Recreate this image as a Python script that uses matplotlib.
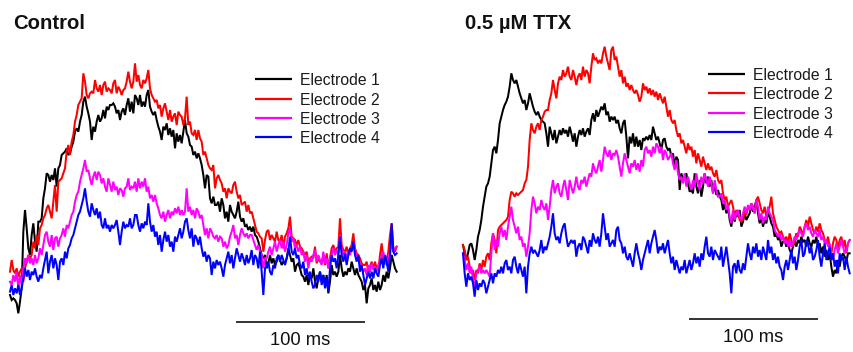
import numpy as np
import matplotlib
matplotlib.use("Agg")
import matplotlib.pyplot as plt

plt.rcParams["font.family"] = ["Liberation Sans", "DejaVu Sans"]

# Field-potential traces from four electrodes, sampled every DT_MS milliseconds.
# Amplitudes are in arbitrary units (uV-scale, no y calibration shown).
DT_MS = 1.292

electrode_labels = ["Electrode 1", "Electrode 2", "Electrode 3", "Electrode 4"]
electrode_colors = ["#000000", "#ff0000", "#ff00ff", "#0000ff"]
panel_titles = ["Control", "0.5 \u00b5M TTX"]
scale_bar_ms = 100
scale_bar_label = "100 ms"

ctrl_e1 = [15, 0, 5, 0, -10, -40, -5, 35, 205, 270, 215, 155, 135, 195, 230, 175, 145, 235, 235, 245, 305, 335, 380, 375, 355, 375, 360, 395, 340, 395, 405, 435, 440, 445, 455, 435, 440, 460, 475, 505, 515, 505, 535, 555, 595, 610, 580, 560, 535, 480, 520, 505, 535, 555, 535, 545, 570, 545, 580, 570, 585, 585, 590, 580, 560, 570, 540, 565, 575, 555, 585, 605, 565, 595, 560, 615,
           605, 585, 615, 580, 595, 580, 615, 630, 580, 565, 555, 565, 540, 520, 505, 480, 520, 510, 530, 495, 515, 490, 510, 455, 500, 475, 495, 470, 505, 540, 500, 490, 465, 460, 435, 445, 425, 440, 425, 405, 375, 335, 375, 370, 305, 290, 310, 285, 285, 295, 265, 305, 285, 245, 265, 235, 285, 265, 255, 245, 265, 295, 250, 235, 245, 220, 225, 210, 220, 205, 220, 195, 190, 175, 155, 135, 125, 135,
           95, 110, 135, 110, 125, 105, 115, 135, 120, 105, 115, 110, 125, 155, 135, 115, 125, 85, 105, 110, 95, 75, 70, 55, 75, 45, 75, 65, 95, 55, 35, 65, 85, 55, 75, 45, 75, 20, 55, 105, 75, 85, 70, 85, 135, 95, 70, 85, 75, 95, 85, 115, 95, 75, 95, 75, 65, 55, 30, 45, -10, 35, 45, 65, 30, 45, 25, 55, 30, 45, 75, 55, 85, 65, 95, 135, 115, 95, 85]

ctrl_e2 = [85, 120, 90, 80, 95, 70, 85, 95, 55, 95, 115, 135, 125, 135, 175, 155, 195, 165, 215, 225, 245, 255, 275, 285, 265, 245, 295, 345, 265, 355, 360, 365, 380, 395, 445, 465, 435, 475, 495, 535, 555, 585, 595, 605, 680, 655, 615, 605, 620, 625, 620, 660, 635, 625, 645, 615, 645, 655, 625, 635, 630, 620, 650, 660, 620, 640, 630, 615, 630, 635, 655, 685, 655, 635, 655, 710,
           655, 675, 645, 635, 660, 650, 665, 690, 635, 615, 605, 595, 600, 575, 585, 550, 575, 590, 565, 540, 570, 535, 550, 560, 525, 565, 555, 550, 525, 545, 610, 525, 535, 500, 495, 510, 480, 510, 485, 475, 435, 445, 425, 405, 395, 390, 405, 335, 365, 375, 360, 350, 325, 335, 305, 335, 325, 320, 345, 355, 325, 305, 315, 285, 290, 295, 265, 285, 260, 265, 245, 225, 205, 200, 190, 185, 145, 180,
           205, 210, 180, 195, 185, 175, 205, 180, 175, 195, 155, 190, 200, 215, 250, 190, 185, 180, 165, 180, 160, 155, 145, 135, 145, 115, 125, 130, 125, 160, 110, 125, 115, 110, 135, 105, 140, 95, 125, 155, 165, 145, 155, 160, 245, 165, 150, 145, 160, 135, 155, 165, 200, 155, 140, 135, 125, 110, 105, 105, 115, 80, 100, 115, 95, 115, 95, 90, 135, 170, 125, 115, 120, 145, 195, 230, 155, 145, 160]

ctrl_e3 = [55, 45, 75, 55, 85, 35, 75, 45, 95, 125, 110, 135, 110, 125, 105, 135, 110, 125, 155, 135, 165, 195, 205, 175, 160, 195, 150, 185, 190, 160, 185, 195, 215, 190, 225, 215, 235, 255, 265, 295, 315, 325, 355, 375, 395, 420, 385, 390, 365, 345, 370, 385, 360, 385, 375, 350, 365, 340, 325, 365, 345, 325, 355, 330, 340, 315, 335, 330, 310, 335, 340, 365, 330, 340, 335, 355,
           325, 365, 335, 355, 340, 365, 325, 340, 305, 315, 295, 315, 290, 275, 255, 245, 265, 235, 255, 270, 245, 265, 255, 275, 260, 280, 255, 270, 255, 265, 335, 265, 280, 255, 270, 245, 275, 265, 245, 255, 225, 195, 215, 185, 215, 205, 190, 185, 195, 175, 190, 185, 160, 175, 155, 165, 190, 205, 225, 185, 195, 165, 195, 215, 200, 190, 200, 185, 195, 195, 180, 165, 150, 165, 145, 135, 95, 125,
           125, 145, 160, 135, 155, 175, 145, 165, 180, 155, 175, 145, 165, 200, 215, 175, 185, 155, 165, 145, 160, 135, 145, 115, 135, 95, 125, 115, 135, 150, 115, 135, 120, 105, 145, 110, 125, 95, 130, 135, 155, 135, 150, 135, 195, 155, 135, 145, 125, 145, 135, 155, 175, 145, 135, 125, 110, 95, 85, 95, 75, 105, 85, 110, 90, 100, 85, 105, 115, 135, 145, 115, 105, 120, 145, 175, 145, 155, 160]

ctrl_e4 = [25, 45, 15, 35, 20, 45, 15, 35, 65, 95, 70, 90, 60, 85, 75, 95, 70, 55, 75, 65, 95, 120, 145, 80, 115, 135, 95, 125, 105, 60, 115, 125, 105, 145, 125, 155, 165, 185, 195, 215, 235, 255, 265, 285, 305, 335, 295, 265, 250, 290, 270, 255, 275, 245, 265, 225, 215, 245, 215, 225, 205, 225, 215, 225, 240, 205, 165, 205, 235, 215, 225, 220, 245, 215, 225, 255,
           255, 225, 205, 230, 215, 235, 225, 290, 235, 205, 225, 190, 205, 165, 195, 145, 180, 205, 175, 195, 160, 175, 145, 190, 175, 195, 215, 185, 205, 235, 245, 210, 185, 215, 160, 195, 185, 165, 190, 155, 130, 145, 115, 135, 125, 75, 115, 95, 120, 105, 115, 95, 70, 105, 125, 145, 110, 135, 95, 125, 155, 135, 115, 140, 125, 105, 135, 110, 125, 150, 105, 135, 125, 95, 145, 85, 15, 95,
           105, 115, 85, 75, 105, 95, 125, 135, 115, 135, 120, 105, 125, 145, 190, 145, 135, 155, 125, 135, 105, 95, 115, 75, 95, 65, 85, 55, 35, 45, 75, 55, 85, 45, 75, 35, 65, 25, 95, 135, 115, 125, 95, 135, 190, 135, 115, 140, 105, 135, 155, 145, 175, 135, 115, 135, 85, 105, 75, 45, 65, 85, 65, 85, 65, 95, 80, 70, 105, 125, 95, 135, 115, 85, 130, 230, 145, 135, 140]

ttx_e1 = [165, 140, 120, 140, 165, 170, 150, 120, 150, 190, 210, 240, 280, 310, 340, 350, 370, 410, 450, 460, 440, 480, 530, 550, 570, 585, 595, 610, 640, 680, 660, 650, 660, 640, 620, 605, 590, 600, 570, 590, 620, 600, 580, 565, 555, 565, 550, 540, 535, 530, 500, 460, 520, 500, 480, 510, 470, 490, 510, 495, 515, 500, 510, 490, 520, 500, 475, 500, 460, 490, 510, 495, 515, 490, 505, 515,
          495, 540, 560, 535, 570, 550, 565, 580, 570, 590, 555, 565, 535, 550, 540, 550, 530, 540, 515, 500, 530, 540, 490, 425, 490, 470, 500, 460, 490, 460, 480, 450, 485, 480, 490, 480, 495, 480, 520, 500, 480, 490, 470, 450, 480, 485, 460, 450, 455, 430, 440, 400, 430, 420, 330, 380, 360, 370, 380, 350, 325, 330, 320, 380, 340, 320, 360, 310, 340, 380, 350, 370, 340, 360, 320, 350, 315, 330,
          310, 300, 270, 290, 260, 280, 240, 220, 260, 235, 260, 250, 270, 220, 235, 260, 240, 250, 260, 285, 265, 280, 300, 260, 230, 250, 220, 240, 230, 260, 250, 230, 220, 190, 200, 180, 190, 160, 175, 180, 160, 170, 150, 140, 160, 180, 160, 180, 170, 190, 175, 180, 160, 190, 170, 160, 180, 170, 190, 160, 170, 140, 160, 130, 150, 120, 140, 100, 70, 90, 80, 120, 100, 130, 140, 130, 115, 140, 140]

ttx_e2 = [165, 150, 120, 130, 100, 80, 90, 60, 90, 80, 110, 90, 120, 100, 130, 140, 120, 170, 200, 180, 140, 210, 220, 225, 230, 235, 240, 250, 300, 325, 320, 310, 320, 315, 320, 325, 330, 350, 360, 400, 480, 530, 510, 500, 520, 530, 510, 540, 550, 565, 570, 570, 600, 620, 660, 630, 605, 650, 670, 660, 690, 670, 680, 700, 670, 660, 690, 670, 645, 670, 680, 660, 700, 670, 690, 680,
          650, 700, 740, 720, 725, 710, 720, 710, 740, 760, 730, 710, 690, 750, 760, 720, 730, 700, 670, 690, 650, 670, 640, 650, 630, 645, 630, 620, 630, 615, 595, 610, 650, 630, 640, 620, 635, 615, 630, 610, 625, 600, 620, 605, 590, 610, 580, 550, 570, 540, 530, 540, 510, 490, 500, 470, 480, 460, 440, 470, 450, 460, 430, 450, 410, 440, 420, 400, 430, 410, 390, 410, 390, 400, 380, 370, 390, 360,
          350, 360, 320, 300, 310, 280, 290, 300, 280, 250, 270, 260, 240, 235, 240, 270, 255, 280, 270, 290, 280, 260, 300, 310, 290, 270, 260, 280, 250, 270, 280, 310, 260, 240, 220, 210, 200, 205, 190, 180, 190, 170, 200, 180, 160, 180, 200, 190, 220, 210, 195, 220, 240, 220, 250, 230, 210, 200, 220, 205, 230, 210, 200, 180, 170, 190, 160, 140, 170, 190, 180, 155, 180, 190, 160, 180, 140, 170, 180]

ttx_e3 = [140, 120, 90, 110, 80, 100, 60, 40, 80, 90, 100, 80, 90, 80, 90, 80, 70, 140, 200, 150, 180, 160, 200, 220, 190, 210, 180, 220, 250, 280, 240, 220, 200, 220, 180, 190, 160, 170, 130, 160, 200, 270, 310, 290, 260, 280, 270, 300, 280, 270, 290, 240, 280, 330, 360, 320, 340, 350, 320, 310, 340, 360, 330, 300, 360, 340, 320, 340, 370, 340, 330, 360, 350, 370, 340, 360,
          380, 370, 410, 390, 380, 400, 420, 385, 420, 460, 440, 430, 450, 420, 440, 435, 450, 430, 400, 370, 410, 440, 420, 400, 380, 410, 400, 420, 390, 410, 385, 420, 400, 450, 460, 440, 450, 430, 460, 440, 470, 460, 440, 460, 420, 450, 440, 420, 430, 440, 410, 390, 420, 380, 360, 370, 350, 380, 340, 370, 350, 330, 360, 340, 380, 350, 330, 370, 350, 380, 360, 340, 370, 350, 320, 360, 330, 310,
          310, 320, 290, 300, 270, 285, 250, 230, 270, 240, 260, 270, 250, 240, 260, 280, 260, 285, 270, 290, 275, 260, 300, 280, 240, 260, 230, 250, 240, 280, 260, 250, 240, 210, 200, 190, 200, 180, 190, 170, 180, 160, 180, 160, 170, 190, 180, 200, 210, 200, 190, 220, 230, 210, 220, 200, 190, 210, 200, 190, 210, 180, 190, 170, 180, 160, 170, 140, 120, 150, 170, 140, 160, 180, 160, 140, 150, 170, 180]

ttx_e4 = [140, 80, 40, 80, 60, 70, 50, 10, 60, 30, 50, 40, 60, 50, 20, 40, 60, 80, 50, 80, 70, 90, 80, 100, 80, 110, 120, 90, 100, 80, 120, 130, 100, 80, 110, 90, 70, 100, 20, 100, 140, 160, 140, 150, 140, 130, 150, 180, 140, 160, 150, 170, 190, 220, 260, 200, 180, 190, 170, 200, 220, 230, 190, 160, 170, 180, 170, 180, 130, 160, 170, 150, 190, 180, 160, 140,
          180, 160, 200, 180, 170, 190, 160, 200, 260, 220, 180, 200, 160, 170, 180, 160, 210, 220, 180, 170, 140, 160, 130, 120, 140, 120, 100, 140, 170, 140, 120, 90, 120, 140, 160, 180, 140, 170, 190, 210, 180, 140, 160, 150, 170, 140, 160, 180, 140, 110, 130, 90, 120, 100, 80, 100, 90, 120, 80, 100, 120, 90, 110, 140, 110, 130, 100, 140, 120, 160, 190, 140, 130, 160, 120, 150, 140, 130,
          120, 160, 100, 130, 160, 120, 80, 20, 100, 110, 80, 120, 90, 80, 110, 90, 130, 170, 140, 120, 160, 140, 170, 130, 150, 120, 160, 140, 120, 180, 140, 160, 120, 140, 110, 130, 100, 90, 60, 100, 120, 90, 120, 150, 110, 130, 90, 120, 160, 180, 130, 140, 180, 170, 140, 160, 120, 130, 150, 180, 130, 100, 140, 170, 120, 140, 160, 120, 140, 100, 120, 80, 140, 120, 130, 90, 130, 100, 80]

panels = [
    [ctrl_e1, ctrl_e2, ctrl_e3, ctrl_e4],
    [ttx_e1, ttx_e2, ttx_e3, ttx_e4],
]

# ---- layout (figure pixels) ----
W, H = 854, 352
DPI = 100
PX_PER_MS = 1.29          # horizontal scale shared by both panels
PX_PER_UNIT = 1.0 / 3.0   # vertical scale

fig = plt.figure(figsize=(W / DPI, H / DPI), dpi=DPI)
fig.patch.set_facecolor("white")

# (left px, right px, px where the trace starts, scale bar y, label baseline y,
#  legend first line y, legend first text baseline y, title x)
panel_layout = [
    dict(x0=0, x1=430, start=10, bar_y=321.5, lab_y=345.0, leg_y=79.3, txt_y=85.3, title_x=12.7),
    dict(x0=440, x1=854, start=463, bar_y=318.5, lab_y=342.3, leg_y=74.0, txt_y=80.0, title_x=465.0),
]
Y_TOP, Y_BOT = 40, 350
ZERO_PX = 300  # pixel row of amplitude 0


def y_to_amp(ypx):
    return (ZERO_PX - ypx) / PX_PER_UNIT


for traces, title, lay in zip(panels, panel_titles, panel_layout):
    ax = fig.add_axes([lay["x0"] / W, 1 - Y_BOT / H,
                       (lay["x1"] - lay["x0"]) / W, (Y_BOT - Y_TOP) / H])
    ax.set_xlim((lay["x0"] - lay["start"]) / PX_PER_MS,
                (lay["x1"] - lay["start"]) / PX_PER_MS)
    ax.set_ylim(y_to_amp(Y_BOT), y_to_amp(Y_TOP))
    ax.axis("off")

    for vals, color in zip(traces, electrode_colors):
        t = np.arange(len(vals)) * DT_MS
        ax.plot(t, vals, color=color, lw=1.45, solid_joinstyle="miter")

    # time scale bar
    bar_start = 175
    ax.plot([bar_start, bar_start + scale_bar_ms],
            [y_to_amp(lay["bar_y"])] * 2, color="#111111", lw=1.2,
            solid_capstyle="butt", clip_on=False)
    ax.text(bar_start + scale_bar_ms / 2, y_to_amp(lay["lab_y"]), scale_bar_label,
            ha="center", va="baseline", fontsize=13.2, color="#111111")

    # legend
    line_t0 = (255 - 10) / PX_PER_MS
    line_t1 = (292 - 10) / PX_PER_MS
    text_t = (300 - 10) / PX_PER_MS
    row = 19.33
    for i, (lab, color) in enumerate(zip(electrode_labels, electrode_colors)):
        ly = y_to_amp(lay["leg_y"] + i * row)
        ax.plot([line_t0, line_t1], [ly, ly], color=color, lw=1.6,
                solid_capstyle="butt")
        ax.text(text_t, y_to_amp(lay["txt_y"] + i * row), lab,
                ha="left", va="baseline", fontsize=11.3, color="#1a1a1a")

    fig.text(lay["title_x"] / W, 1 - 29.3 / H, title, ha="left", va="baseline",
             fontsize=14.6, fontweight="bold", color="#111111")

fig.savefig("out.png", dpi=DPI, facecolor="white")
